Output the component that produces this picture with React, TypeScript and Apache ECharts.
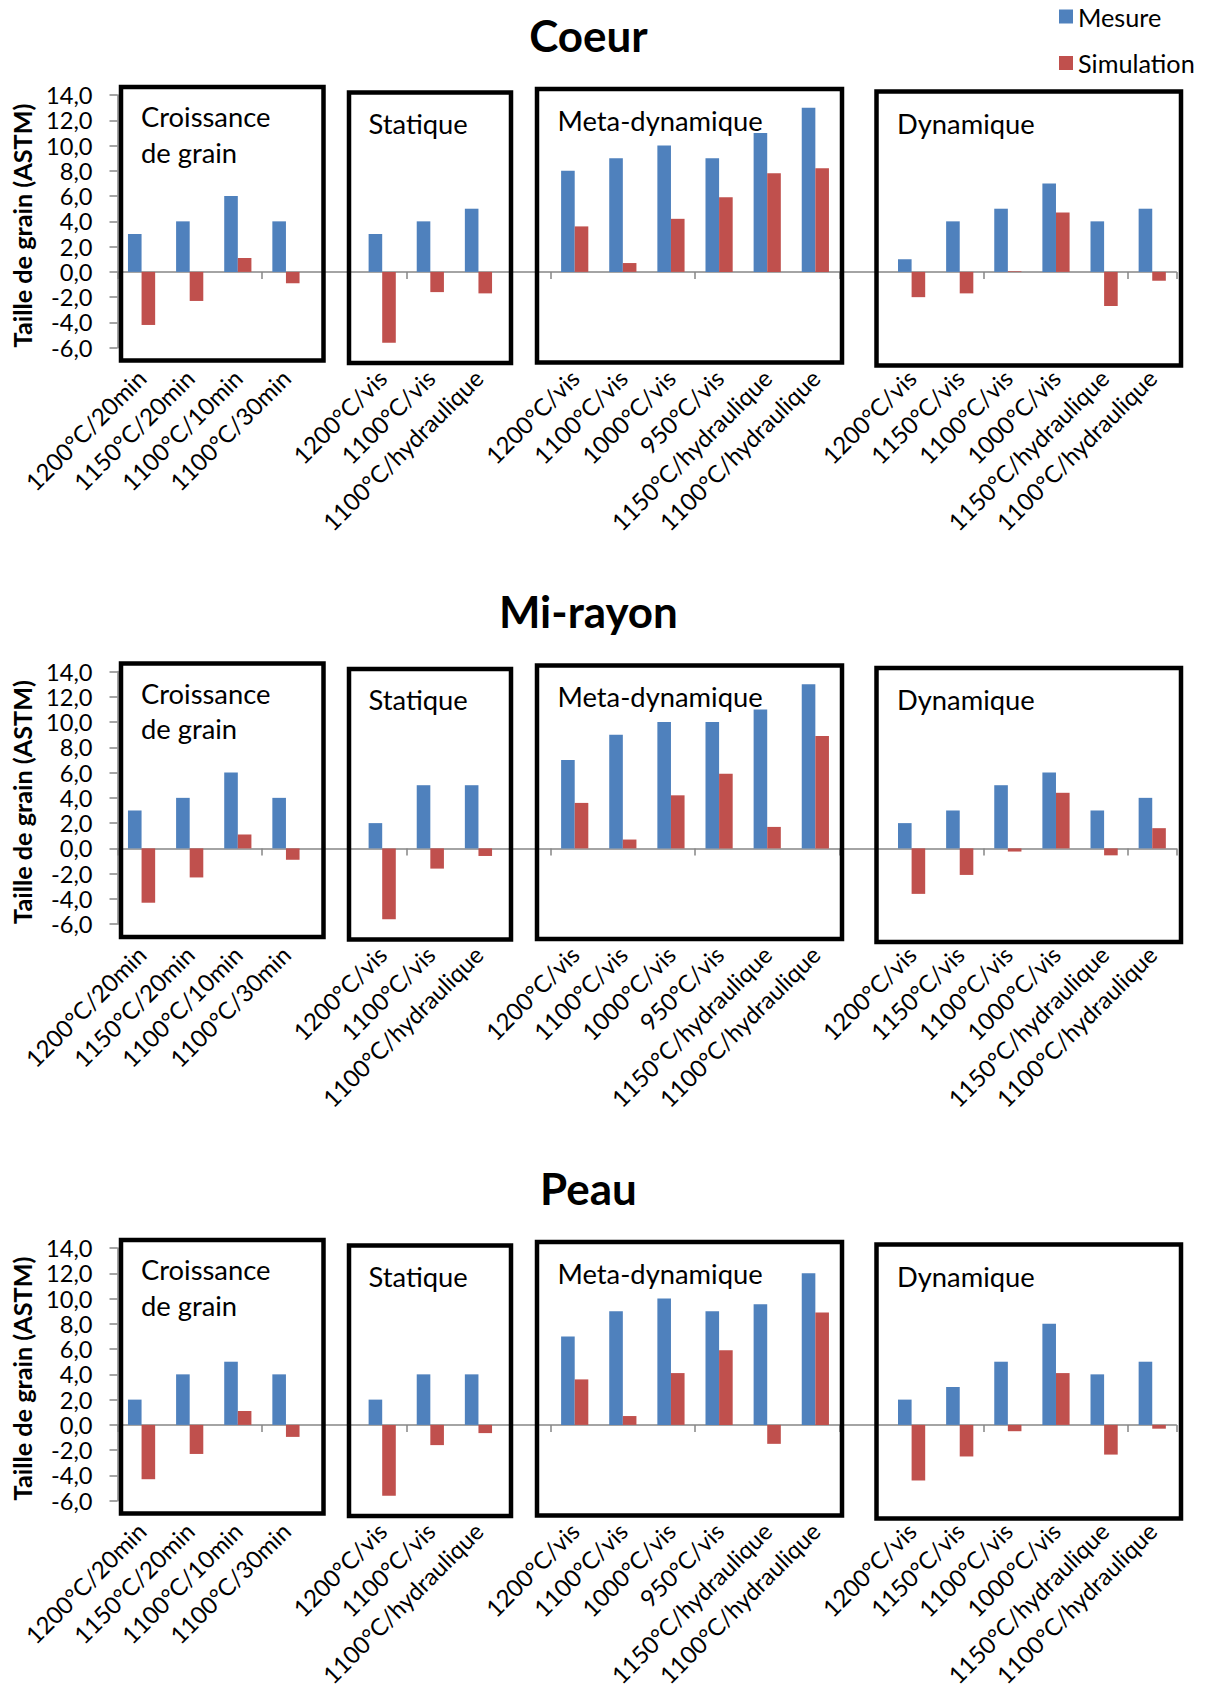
import React, { useEffect, useRef } from 'react';
import * as echarts from 'echarts';

// ---------- data ----------
const groupCroissance = ['1200°C/20min', '1150°C/20min', '1100°C/10min', '1100°C/30min'];
const groupStatique = ['1200°C/vis', '1100°C/vis', '1100°C/hydraulique'];
const groupMeta = ['1200°C/vis', '1100°C/vis', '1000°C/vis', '950°C/vis', '1150°C/hydraulique', '1100°C/hydraulique'];
const groupDynamique = ['1200°C/vis', '1150°C/vis', '1100°C/vis', '1000°C/vis', '1150°C/hydraulique', '1100°C/hydraulique'];
const categories = [...groupCroissance, '', ...groupStatique, '', ...groupMeta, '', ...groupDynamique];

const chartTitles = ['Coeur', 'Mi-rayon', 'Peau'];
const seriesNames = ['Mesure', 'Simulation'];
const yAxisName = 'Taille de grain (ASTM)';
const yMin = -6;
const yMax = 14;
const yStep = 2;

const coeurMesure = [3, 4, 6, 4, null, 3, 4, 5, null, 8, 9, 10, 9, 11, 13, null, 1, 4, 5, 7, 4, 5];
const coeurSimulation = [-4.2, -2.3, 1.1, -0.9, null, -5.6, -1.6, -1.7, null, 3.6, 0.7, 4.2, 5.9, 7.8, 8.2, null, -2.0, -1.7, 0.05, 4.7, -2.7, -0.7];
const miRayonMesure = [3, 4, 6, 4, null, 2, 5, 5, null, 7, 9, 10, 10, 11, 13, null, 2, 3, 5, 6, 3, 4];
const miRayonSimulation = [-4.3, -2.3, 1.1, -0.9, null, -5.6, -1.6, -0.6, null, 3.6, 0.7, 4.2, 5.9, 1.7, 8.9, null, -3.6, -2.1, -0.25, 4.4, -0.55, 1.6];
const peauMesure = [2, 4, 5, 4, null, 2, 4, 4, null, 7, 9, 10, 9, 9.55, 12, null, 2, 3, 5, 8, 4, 5];
const peauSimulation = [-4.3, -2.3, 1.1, -0.95, null, -5.6, -1.6, -0.65, null, 3.6, 0.7, 4.1, 5.9, -1.5, 8.9, null, -4.4, -2.5, -0.5, 4.1, -2.35, -0.3];

const mesureData = [coeurMesure, miRayonMesure, peauMesure];
const simulationData = [coeurSimulation, miRayonSimulation, peauSimulation];

const boxLabels = [['Croissance', 'de grain'], ['Statique'], ['Meta-dynamique'], ['Dynamique']];

// ---------- layout (pixels) ----------
const STEP = 576.5;
const GRID_LEFT = 117.5;
const GRID_WIDTH = 1058.8;
const GRID_TOP = 95;
const GRID_HEIGHT = 252.7;
const boxes = [
  { x: 121, y: 87, w: 202.5, h: 273.5, lx: 141, ly: [116.5, 152] },
  { x: 349, y: 92.5, w: 162, h: 270.5, lx: 368.5, ly: [123] },
  { x: 537, y: 89, w: 305, h: 273.5, lx: 557.5, ly: [120] },
  { x: 876.5, y: 91.5, w: 304.5, h: 274, lx: 897, ly: [123] },
];

const BLUE = '#4F81BD';
const RED = '#C0504D';
const AXIS = '#868686';
const FAMILY = 'Lato';

export default function App() {
  const ref = useRef<HTMLDivElement>(null);
  useEffect(() => {
    const el = ref.current!;
    const chart = echarts.init(el, null, { renderer: 'svg' });

    const ctx = document.createElement('canvas').getContext('2d')!;
    const fit = (text: string, target: number, weight = 'normal') => {
      ctx.font = `${weight} 100px ${FAMILY}`;
      return (100 * target) / ctx.measureText(text).width;
    };
    const regFits = [
      fit('Meta-dynamique', 207),
      fit('Dynamique', 136),
      fit('Statique', 99),
      fit('Croissance', 126),
      fit('1100°C/hydraulique', 207),
    ];
    const REG = regFits.reduce((a, b) => a + b, 0) / regFits.length;
    const BOX = REG * 1.04;
    const XLBL = REG * 0.91;
    const LEG = REG * 0.96;
    const TICK = fit('14,0', 46.5);
    const TITLE = fit('Mi-rayon', 179, 'bold');
    const YNAME = fit(yAxisName, 244, 'bold');

    const grids: any[] = [];
    const xAxes: any[] = [];
    const yAxes: any[] = [];
    const series: any[] = [];
    const graphics: any[] = [];

    chartTitles.forEach((title, k) => {
      const off = k * STEP;
      grids.push({
        left: GRID_LEFT,
        top: GRID_TOP + off,
        width: GRID_WIDTH,
        height: GRID_HEIGHT,
        containLabel: false,
        outerBoundsMode: 'none',
      });
      xAxes.push({
        gridIndex: k,
        type: 'category',
        data: categories,
        boundaryGap: true,
        axisLine: { show: true, onZero: true, lineStyle: { color: AXIS, width: 1.5 } },
        axisTick: { show: true, length: 7, lineStyle: { color: AXIS, width: 1.5 } },
        axisLabel: { show: false },
        splitLine: { show: false },
      });
      xAxes.push({
        gridIndex: k,
        type: 'category',
        data: categories,
        position: 'bottom',
        boundaryGap: true,
        axisLine: { show: false, onZero: false },
        axisTick: { show: false },
        axisLabel: {
          show: true,
          interval: 0,
          rotate: 45,
          margin: 26,
          color: '#000',
          fontFamily: FAMILY,
          fontSize: XLBL,
        },
        splitLine: { show: false },
      });
      yAxes.push({
        gridIndex: k,
        type: 'value',
        min: yMin,
        max: yMax,
        interval: yStep,
        axisLine: { show: true, lineStyle: { color: AXIS, width: 1.5 } },
        axisTick: { show: true, length: 8, lineStyle: { color: AXIS, width: 1.5 } },
        axisLabel: {
          color: '#000',
          fontFamily: FAMILY,
          fontSize: TICK,
          margin: 25,
          formatter: (v: number) => v.toFixed(1).replace('.', ','),
        },
        splitLine: { show: false },
      });
      series.push({
        name: seriesNames[0],
        type: 'bar',
        xAxisIndex: 2 * k,
        yAxisIndex: k,
        data: mesureData[k],
        barWidth: 13.6,
        barGap: '0%',
        itemStyle: { color: BLUE },
      });
      series.push({
        name: seriesNames[1],
        type: 'bar',
        xAxisIndex: 2 * k,
        yAxisIndex: k,
        data: simulationData[k],
        barWidth: 13.6,
        barGap: '0%',
        itemStyle: { color: RED },
      });

      graphics.push({
        type: 'text',
        x: 588.4,
        y: 34.5 + off,
        z: 100,
        style: {
          text: title,
          fill: '#000',
          fontFamily: FAMILY,
          fontWeight: 'bold',
          fontSize: TITLE,
          textAlign: 'center',
          textVerticalAlign: 'middle',
        },
      });
      graphics.push({
        type: 'text',
        x: 22,
        y: 225.5 + off,
        rotation: Math.PI / 2,
        z: 100,
        style: {
          text: yAxisName,
          fill: '#000',
          fontFamily: FAMILY,
          fontWeight: 'bold',
          fontSize: YNAME,
          textAlign: 'center',
          textVerticalAlign: 'middle',
        },
      });
      boxes.forEach((b, i) => {
        graphics.push({
          type: 'rect',
          z: 100,
          shape: { x: b.x, y: b.y + off, width: b.w, height: b.h },
          style: { fill: 'none', stroke: '#000', lineWidth: 4.5 },
        });
        boxLabels[i].forEach((t, j) => {
          graphics.push({
            type: 'text',
            x: b.lx,
            y: b.ly[j] + off,
            z: 100,
            style: {
              text: t,
              fill: '#000',
              fontFamily: FAMILY,
              fontSize: BOX,
              textAlign: 'left',
              textVerticalAlign: 'middle',
            },
          });
        });
      });
    });

    chart.setOption({
      animation: false,
      backgroundColor: '#fff',
      legend: {
        data: seriesNames,
        orient: 'vertical',
        left: 1059,
        top: 4,
        padding: 0,
        itemWidth: 14,
        itemHeight: 14,
        itemGap: 21.5,
        icon: 'rect',
        textStyle: { color: '#000', fontFamily: FAMILY, fontSize: LEG, lineHeight: 22 },
      },
      grid: grids,
      xAxis: xAxes,
      yAxis: yAxes,
      series,
      graphic: { elements: graphics },
    });

    return () => chart.dispose();
  }, []);

  return (
    <div
      ref={ref}
      style={{ position: 'absolute', left: 0, top: 0, width: 1206, height: 1690, background: '#fff' }}
    />
  );
}
